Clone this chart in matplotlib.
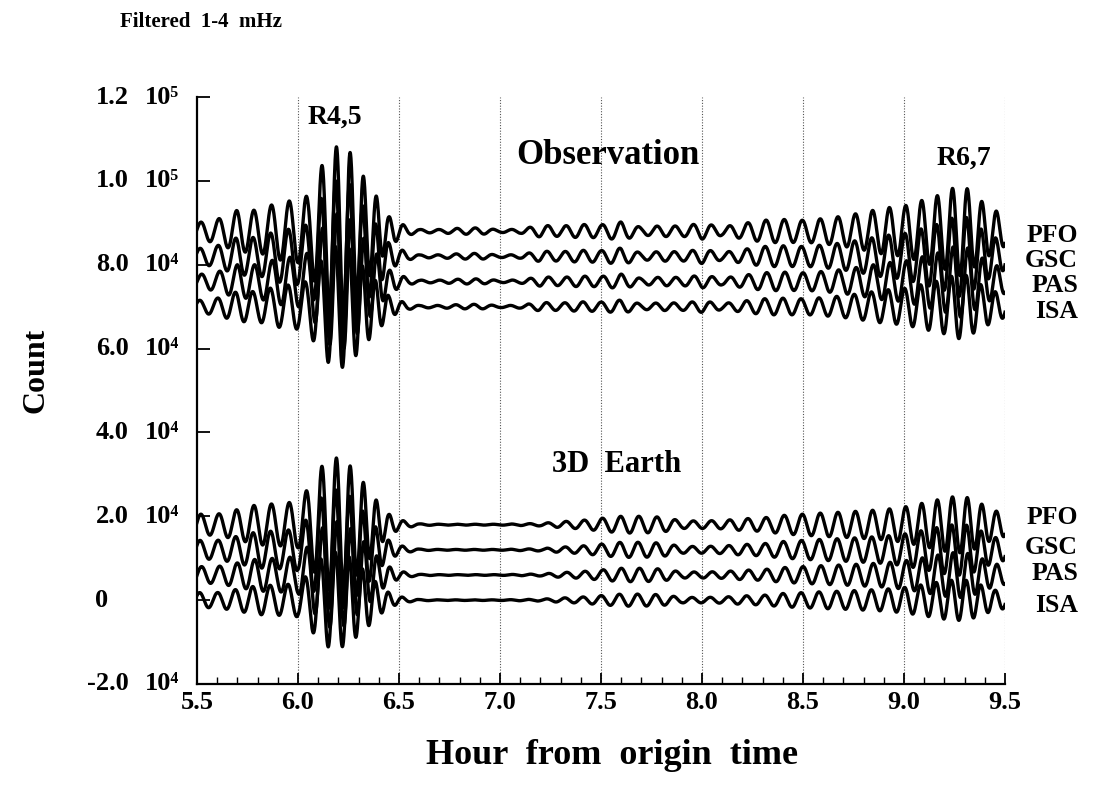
import numpy as np
import matplotlib
matplotlib.use("Agg")
import matplotlib.pyplot as plt

# ---------------- data ----------------
env_hours = [5.50, 5.60, 5.70, 5.80, 5.90, 6.00, 6.05, 6.10, 6.15, 6.20,
             6.25, 6.30, 6.35, 6.40, 6.45, 6.50, 6.55, 6.60, 6.70, 6.80,
             6.90, 7.00, 7.10, 7.20, 7.30, 7.40, 7.50, 7.60, 7.70, 7.80,
             7.90, 8.00, 8.10, 8.20, 8.30, 8.40, 8.50, 8.60, 8.70, 8.80,
             8.90, 9.00, 9.10, 9.20, 9.25, 9.30, 9.35, 9.40, 9.45, 9.50]

# envelope amplitude (counts) of the observed traces (PFO scale)
obs_envelope = [2000, 2800, 5000, 5000, 6800, 7500, 8500, 14000, 18500, 20500,
                19500, 15000, 11000, 7500, 3500, 2000, 900, 400, 400, 700,
                800, 300, 500, 1400, 1200, 1600, 1500, 2200, 900, 1300,
                1200, 1900, 1000, 1800, 2600, 2800, 2600, 3000, 3600, 4500,
                5500, 6000, 7500, 9000, 10500, 10700, 8500, 6500, 5000, 3500]

# envelope amplitude (counts) of the 3D Earth synthetics (PFO scale)
syn_envelope = [2500, 2500, 3600, 4800, 5000, 5500, 8600, 13000, 15500, 16000,
                14500, 11500, 8500, 5000, 2500, 1200, 600, 200, 100, 100,
                100, 100, 200, 300, 700, 1000, 1500, 2000, 2000, 1800,
                900, 900, 1000, 1400, 1600, 2200, 2500, 2800, 3000, 3300,
                3600, 4200, 5200, 6300, 6700, 6700, 5800, 4500, 3300, 2800]

# local wave period (hours) read from peak spacing
period_hours = [0.089, 0.089, 0.086, 0.086, 0.089, 0.085, 0.080, 0.075, 0.072, 0.070,
                0.067, 0.065, 0.064, 0.064, 0.065, 0.070, 0.085, 0.090, 0.090, 0.090,
                0.090, 0.090, 0.090, 0.090, 0.090, 0.090, 0.090, 0.090, 0.090, 0.090,
                0.090, 0.090, 0.090, 0.090, 0.090, 0.090, 0.089, 0.088, 0.087, 0.085,
                0.083, 0.080, 0.078, 0.075, 0.074, 0.073, 0.072, 0.072, 0.072, 0.072]

stations = ["PFO", "GSC", "PAS", "ISA"]
obs_baseline = [88000, 82000, 76000, 70000]
syn_baseline = [18000, 12000, 6000, 0]
station_scale = [1.0, 0.9, 0.8, 0.72]
station_phase = [0.0, 0.3, -0.25, 0.45]

ytick_values = [-20000, 0, 20000, 40000, 60000, 80000, 100000, 120000]
ytick_mantissa = ["-2.0", "0", "2.0", "4.0", "6.0", "8.0", "1.0", "1.2"]
ytick_power = ["10\u2074", "", "10\u2074", "10\u2074", "10\u2074", "10\u2074", "10\u2075", "10\u2075"]
xtick_values = [5.5, 6.0, 6.5, 7.0, 7.5, 8.0, 8.5, 9.0, 9.5]
xtick_labels = ["5.5", "6.0", "6.5", "7.0", "7.5", "8.0", "8.5", "9.0", "9.5"]

# ---------------- figure ----------------
W, H = 1094, 785
fig = plt.figure(figsize=(W / 100, H / 100), dpi=100)
fig.patch.set_facecolor("white")
ax = fig.add_axes([197 / W, 1 - 684 / H, (1005 - 197) / W, (684 - 97) / H])

SERIF = "Liberation Serif"

t = np.linspace(5.5, 9.5, 6001)
per = np.interp(t, env_hours, period_hours)
dt = t[1] - t[0]
phase = np.concatenate([[0.0], np.cumsum(2 * np.pi / per[1:] * dt)])
phase -= np.interp(6.19, t, phase)  # peak of R4,5 at ~6.19 h
env_obs = np.interp(t, env_hours, obs_envelope)
env_syn = np.interp(t, env_hours, syn_envelope)

for i in range(4):
    y_obs = obs_baseline[i] + station_scale[i] * env_obs * np.cos(phase + station_phase[i])
    y_syn = syn_baseline[i] + station_scale[i] * env_syn * np.cos(phase + station_phase[i])
    ax.plot(t, y_obs, color="black", lw=2.4, solid_joinstyle="round", zorder=3)
    ax.plot(t, y_syn, color="black", lw=2.4, solid_joinstyle="round", zorder=3)

ax.set_xlim(5.5, 9.5)
ax.set_ylim(-20000, 120000)
for s in ["top", "right"]:
    ax.spines[s].set_visible(False)
ax.spines["left"].set_linewidth(1.6)
ax.spines["bottom"].set_linewidth(1.6)

ax.set_xticks(xtick_values)
ax.set_xticklabels(xtick_labels, fontfamily=SERIF, fontweight="bold", fontsize=19)
ax.set_xticks(np.arange(5.5, 9.51, 0.1), minor=True)
ax.tick_params(axis="x", which="major", direction="in", length=8, width=1.3, pad=5)
ax.tick_params(axis="x", which="minor", direction="in", length=5, width=1.0)
ax.set_yticks(ytick_values)
ax.set_yticklabels([""] * len(ytick_values))
ax.tick_params(axis="y", which="major", direction="in", length=9, width=1.3)

for xv in xtick_values[1:]:
    ax.axvline(xv, color="#555555", lw=0.8, ls=(0, (1, 1.5)), zorder=1)

# y tick labels: mantissa + power of ten
for v, m, p in zip(ytick_values, ytick_mantissa, ytick_power):
    ypix = ax.transData.transform((5.5, v))[1]
    yf = ypix / H
    if p:
        fig.text(129 / W, yf, m, ha="right", va="center", fontfamily=SERIF,
                 fontweight="bold", fontsize=19)
        fig.text(145 / W, yf, p, ha="left", va="center", fontfamily=SERIF,
                 fontweight="bold", fontsize=19)
    else:
        fig.text(108 / W, yf, m, ha="right", va="center", fontfamily=SERIF,
                 fontweight="bold", fontsize=19)

# titles and labels
fig.text(120 / W, 1 - 22 / H, "Filtered  1-4  mHz", ha="left", va="center",
         fontfamily=SERIF, fontweight="bold", fontsize=15)
fig.text(612 / W, 1 - 756 / H, "Hour  from  origin  time", ha="center", va="center",
         fontfamily=SERIF, fontweight="bold", fontsize=26)
fig.text(36 / W, 1 - 370 / H, "Count", ha="center", va="center", rotation=90,
         fontfamily=SERIF, fontweight="bold", fontsize=23)

fig.text(335 / W, 1 - 117 / H, "R4,5", ha="center", va="center",
         fontfamily=SERIF, fontweight="bold", fontsize=20)
fig.text(964 / W, 1 - 158 / H, "R6,7", ha="center", va="center",
         fontfamily=SERIF, fontweight="bold", fontsize=20)
fig.text(608 / W, 1 - 155 / H, "Observation", ha="center", va="center",
         fontfamily=SERIF, fontweight="bold", fontsize=25)
fig.text(617 / W, 1 - 465 / H, "3D  Earth", ha="center", va="center",
         fontfamily=SERIF, fontweight="bold", fontsize=22)

obs_label_y = [235, 261, 286, 312]
syn_label_y = [518, 547, 574, 606]
for name, yo, ys in zip(stations, obs_label_y, syn_label_y):
    fig.text(1078 / W, 1 - yo / H, name, ha="right", va="center",
             fontfamily=SERIF, fontweight="bold", fontsize=18.5)
    fig.text(1078 / W, 1 - ys / H, name, ha="right", va="center",
             fontfamily=SERIF, fontweight="bold", fontsize=18.5)

fig.savefig("out.png", dpi=100, facecolor="white")
